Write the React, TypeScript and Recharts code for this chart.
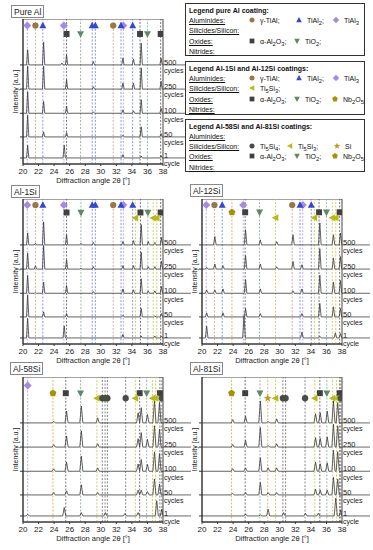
import React from 'react';
import { ComposedChart, Line, Scatter, XAxis, YAxis, ReferenceLine, ReferenceArea } from 'recharts';

const FONT = '"Liberation Sans", Arial, sans-serif';

const xTicks = [20, 22, 24, 26, 28, 30, 32, 34, 36, 38];
const cycleLabels = ['500', '250', '100', '50', '1'];
const cycleUnits = ['cycles', 'cycles', 'cycles', 'cycles', 'cycle'];
const baselines = [4.1, 3.1, 2.1, 1.12, 0.25];

// pure Al: peak positions (2θ) and heights per cycle count (500, 250, 100, 50, 1)
const pureAlPeaks = [20.6, 22.65, 25.0, 25.3, 25.6, 29.05, 32.85, 34.2, 35.2, 37.75];
const pureAl500 = [0.63, 0.94, 0.08, 0, 0.42, 0.14, 0.28, 0.24, 0.9, 0.28];
const pureAl250 = [0.95, 0.95, 0, 0, 0.39, 0.1, 0.25, 0.25, 0.88, 0.32];
const pureAl100 = [0.9, 0.49, 0, 0, 0.3, 0.06, 0.14, 0.1, 0.56, 0.21];
const pureAl50 = [0.9, 0.21, 0, 0, 0.18, 0, 0.07, 0, 0.42, 0.14];
const pureAl1 = [0.53, 0.03, 0, 0.53, 0, 0, 0.14, 0, 0.08, 0.1];

// Al-1Si
const al1Peaks = [20.6, 21.6, 22.65, 25.3, 25.6, 27.45, 29.05, 32.85, 34.2, 35.2, 36.1, 36.95, 37.8];
const al1_500 = [0.5, 0.07, 0.95, 0, 0.42, 0.07, 0.1, 0.14, 0.18, 0.84, 0.14, 0.1, 0.31];
const al1_250 = [0.66, 0.14, 0.98, 0, 0.38, 0.04, 0.1, 0.14, 0.14, 0.7, 0.1, 0.1, 0.32];
const al1_100 = [0.74, 0.04, 0.46, 0, 0.32, 0, 0.07, 0.18, 0.14, 0.6, 0.1, 0.1, 0.28];
const al1_50 = [0.91, 0, 0.21, 0, 0.14, 0, 0, 0.07, 0, 0.35, 0, 0.04, 0.14];
const al1_1 = [0.81, 0, 0, 0.5, 0, 0, 0, 0.15, 0, 0.08, 0, 0.08, 0.08];

// Al-12Si
const al12Peaks = [20.6, 21.65, 22.7, 25.4, 25.6, 27.5, 29.6, 31.7, 32.85, 35.15, 36.9, 37.15, 37.8];
const al12_500 = [0, 0.35, 0, 0, 0.63, 0.21, 0.14, 0.42, 0, 0.91, 0.42, 0, 0.49];
const al12_250 = [0.07, 0.21, 0.14, 0, 0.56, 0.21, 0.1, 0.32, 0.18, 0.84, 0.46, 0, 0.52];
const al12_100 = [0.14, 0.14, 0.18, 0, 0.56, 0.18, 0, 0.1, 0.18, 0.74, 0.46, 0, 0.53];
const al12_50 = [0.17, 0, 0.17, 0, 0.35, 0.14, 0, 0, 0.14, 0.56, 0.42, 0, 0.35];
const al12_1 = [0.49, 0, 0, 0.91, 0, 0, 0, 0, 0.24, 0.07, 0, 0.21, 0.18];

// Al-58Si
const al58Peaks = [20.6, 23.95, 25.3, 25.6, 27.5, 29.6, 30.6, 33.1, 34.8, 35.2, 36.0, 36.9, 37.2, 37.55, 37.85];
const al58_500 = [0, 0.07, 0, 0.49, 0.7, 0.21, 0, 0, 0.42, 0.63, 0.35, 0.91, 0, 0.84, 0];
const al58_250 = [0, 0.1, 0, 0.46, 0.67, 0.14, 0, 0, 0.35, 0.6, 0.32, 0.88, 0, 0.74, 0];
const al58_100 = [0, 0.1, 0, 0.38, 0.63, 0.14, 0, 0, 0.3, 0.49, 0.28, 0.8, 0, 0.73, 0];
const al58_50 = [0, 0.1, 0, 0.17, 0.42, 0.1, 0, 0, 0.2, 0.2, 0.14, 0.66, 0, 0.45, 0];
const al58_1 = [0.07, 0, 0.35, 0, 0.14, 0, 0.14, 0.1, 0.14, 0, 0, 0, 0.63, 0, 0.28];

// Al-81Si
const al81Peaks = [23.95, 25.6, 27.5, 28.5, 29.6, 30.5, 33.3, 34.6, 34.95, 35.2, 36.1, 36.9, 37.2, 37.45, 37.85];
const al81_500 = [0.14, 0.28, 0.91, 0.07, 0.17, 0, 0, 0.38, 0, 0.42, 0.49, 0.91, 0, 0.84, 0];
const al81_250 = [0.11, 0.28, 0.81, 0.07, 0.14, 0, 0, 0.39, 0, 0.36, 0.42, 0.95, 0, 0.88, 0];
const al81_100 = [0.11, 0.14, 0.56, 0.14, 0.14, 0, 0, 0.38, 0, 0.31, 0.35, 0.87, 0, 0.81, 0];
const al81_50 = [0.06, 0.1, 0.52, 0.1, 0.1, 0, 0, 0.24, 0, 0.2, 0.2, 0.73, 0, 0.66, 0];
const al81_1 = [0, 0.08, 0.04, 0.28, 0, 0.14, 0.11, 0, 0.11, 0, 0, 0, 0.74, 0, 0.25];

// phase reference marks: [phase, 2θ, row]
type Mark = [string, number, number];
const pureAlMarks: Mark[] = [
  ['TiAl3', 20.55, 1], ['gTiAl', 21.6, 1], ['TiAl2', 22.55, 1], ['TiAl3', 25.25, 1], ['TiAl2', 28.9, 1],
  ['TiAl2', 29.3, 1], ['gTiAl', 31.6, 1], ['TiAl2', 32.6, 1], ['TiAl3', 32.9, 1], ['TiAl2', 34.1, 1],
  ['Al2O3', 25.6, 2], ['TiO2', 27.4, 2], ['Al2O3', 35.05, 2], ['TiO2', 36.0, 2], ['Al2O3', 37.7, 2],
];
const al1Marks: Mark[] = [
  ['TiAl3', 20.55, 1], ['gTiAl', 21.6, 1], ['TiAl2', 22.55, 1], ['TiAl3', 25.25, 1], ['TiAl2', 28.9, 1],
  ['TiAl2', 29.3, 1], ['gTiAl', 31.6, 1], ['TiAl2', 32.6, 1], ['TiAl3', 32.9, 1], ['TiAl2', 34.1, 1],
  ['Al2O3', 25.6, 2], ['TiO2', 27.45, 2], ['Al2O3', 35.1, 2], ['TiO2', 36.05, 2], ['Al2O3', 37.7, 2],
  ['Ti5Si3', 34.45, 3], ['Ti5Si3', 36.75, 3], ['Ti5Si3', 37.2, 3],
];
const al12Marks: Mark[] = [
  ['TiAl3', 20.55, 1], ['gTiAl', 21.6, 1], ['TiAl2', 22.6, 1], ['TiAl3', 25.3, 1], ['gTiAl', 31.6, 1],
  ['TiAl2', 32.6, 1], ['TiAl3', 32.95, 1], ['TiAl2', 34.05, 1],
  ['Nb2O5', 23.85, 2], ['Al2O3', 25.55, 2], ['TiO2', 27.4, 2], ['Al2O3', 35.05, 2], ['TiO2', 36.0, 2], ['Al2O3', 37.7, 2],
  ['Ti5Si3', 29.45, 3], ['Ti5Si3', 34.45, 3], ['Ti5Si3', 36.75, 3], ['Ti5Si3', 37.2, 3],
];
const al58Marks: Mark[] = [
  ['TiAl3', 20.6, 1],
  ['Nb2O5', 23.85, 2], ['Al2O3', 25.5, 2], ['TiO2', 27.4, 2], ['Al2O3', 35.0, 2], ['TiO2', 35.9, 2], ['Al2O3', 37.6, 2],
  ['Ti5Si3', 29.5, 3], ['Ti5Si4', 30.2, 3], ['Ti5Si4', 30.55, 3], ['Ti5Si4', 30.85, 3], ['Ti5Si4', 33.2, 3],
  ['Ti5Si3', 34.45, 3], ['Ti5Si3', 36.65, 3], ['Ti5Si3', 37.05, 3], ['Ti5Si4', 37.85, 3],
];
const al81Marks: Mark[] = [
  ['Nb2O5', 23.8, 2], ['Al2O3', 25.55, 2], ['TiO2', 27.45, 2], ['Al2O3', 35.15, 2], ['TiO2', 36.05, 2], ['Al2O3', 37.7, 2],
  ['Si', 28.45, 3], ['Ti5Si3', 29.45, 3], ['Ti5Si4', 30.4, 3], ['Ti5Si4', 30.75, 3], ['Ti5Si4', 33.25, 3],
  ['Ti5Si3', 34.5, 3], ['Ti5Si3', 36.8, 3], ['Ti5Si3', 37.3, 3], ['Ti5Si4', 37.85, 3],
];

const PHASES: Record<string, { shape: string; fill: string; line: string; label: React.ReactNode }> = {
  gTiAl: { shape: 'circle', fill: '#9a7845', line: '#c99a8a', label: <>γ-TiAl;</> },
  TiAl2: { shape: 'up', fill: '#3347d6', line: '#6f7fe0', label: <>TiAl<sub>2</sub>;</> },
  TiAl3: { shape: 'diamond', fill: '#a48ae4', line: '#a996e6', label: <>TiAl<sub>3</sub></> },
  Al2O3: { shape: 'square', fill: '#404040', line: '#555555', label: <>α-Al<sub>2</sub>O<sub>3</sub>;</> },
  TiO2: { shape: 'down', fill: '#5e8868', line: '#86a890', label: <>TiO<sub>2</sub>;</> },
  Ti5Si3: { shape: 'left', fill: '#b7ba14', line: '#c9c24a', label: <>Ti<sub>5</sub>Si<sub>3</sub>;</> },
  Nb2O5: { shape: 'pentagon', fill: '#a89200', line: '#d3a550', label: <>Nb<sub>2</sub>O<sub>5</sub></> },
  Si: { shape: 'star', fill: '#c29a1c', line: '#d3a550', label: <>Si</> },
  Ti5Si4: { shape: 'circle', fill: '#474d45', line: '#6a6a6a', label: <>Ti<sub>5</sub>Si<sub>4</sub>;</> },
};

const poly = (cx: number, cy: number, r: number, pts: number[][]) =>
  pts.map(([a, b]) => `${cx + a * r},${cy + b * r}`).join(' ');

const MarkerShape = ({ kind, cx, cy, r = 3.5 }: any) => {
  const { shape, fill } = PHASES[kind];
  if (cx == null || cy == null) return null;
  switch (shape) {
    case 'circle':
      return <circle cx={cx} cy={cy} r={r * 0.9} fill={fill} />;
    case 'square':
      return <rect x={cx - r * 0.85} y={cy - r * 0.85} width={r * 1.7} height={r * 1.7} fill={fill} />;
    case 'up':
      return <polygon points={poly(cx, cy, r, [[0, -1.1], [-1, 0.8], [1, 0.8]])} fill={fill} />;
    case 'down':
      return <polygon points={poly(cx, cy, r, [[-1, -0.8], [1, -0.8], [0, 1.1]])} fill={fill} />;
    case 'left':
      return <polygon points={poly(cx, cy, r, [[-1.1, 0], [0.8, -1], [0.8, 1]])} fill={fill} />;
    case 'diamond':
      return <polygon points={poly(cx, cy, r, [[0, -1.15], [1.15, 0], [0, 1.15], [-1.15, 0]])} fill={fill} />;
    case 'pentagon': {
      const pts = [0, 1, 2, 3, 4].map((k) => {
        const a = ((-90 + 72 * k) * Math.PI) / 180;
        return [Math.cos(a) * 1.05, Math.sin(a) * 1.05];
      });
      return <polygon points={poly(cx, cy, r, pts)} fill={fill} />;
    }
    case 'star': {
      const pts = Array.from({ length: 10 }, (_, k) => {
        const a = ((-90 + 36 * k) * Math.PI) / 180;
        const rr = k % 2 === 0 ? 1.2 : 0.5;
        return [Math.cos(a) * rr, Math.sin(a) * rr];
      });
      return <polygon points={poly(cx, cy, r, pts)} fill={fill} />;
    }
    default:
      return null;
  }
};

const buildPattern = (peaks: number[], heights: number[], base: number, w: number) => {
  const pts = [{ x: 20, y: base }, { x: 38, y: base }];
  peaks.forEach((p, i) => {
    if (heights[i] > 0) {
      pts.push({ x: Math.max(20, p - w), y: base }, { x: p, y: base + heights[i] }, { x: Math.min(38, p + w), y: base });
    }
  });
  return pts.sort((a, b) => a.x - b.x);
};

const CycleLabel = ({ viewBox, top, bottom }: any) => {
  if (!viewBox) return null;
  const { x, y } = viewBox;
  return (
    <g fontFamily={FONT} fill="#222">
      <text x={x + 1} y={y - 0.3} fontSize={7.5}>{top}</text>
      <text x={x + 1} y={y + 8.3} fontSize={7}>{bottom}</text>
    </g>
  );
};

const YLabel = ({ viewBox }: any) => {
  if (!viewBox) return null;
  const cx = viewBox.x + 17;
  const cy = viewBox.y + viewBox.height / 2;
  return (
    <text x={cx} y={cy} transform={`rotate(-90 ${cx} ${cy})`} textAnchor="middle" fontSize={7} fontFamily={FONT} fill="#222">
      Intensity [a.u.]
    </text>
  );
};

const XLabel = ({ viewBox }: any) => {
  if (!viewBox) return null;
  return (
    <text x={viewBox.x + viewBox.width / 2} y={viewBox.y + 18.5} textAnchor="middle" fontSize={7.5} fontFamily={FONT} fill="#222">
      Diffraction angle 2θ [°]
    </text>
  );
};

const Panel = ({ left, top, peaks, patterns, w, marks, rows }: any) => {
  const series = patterns.map((h: number[], i: number) => buildPattern(peaks, h, baselines[i], w));
  const phases: string[] = Array.from(new Set(marks.map((m: Mark) => m[0])));
  return (
    <div style={{ position: 'absolute', left, top }}>
      <ComposedChart width={196} height={167} margin={{ top: 0, right: 34, bottom: 0, left: 0 }}>
        <XAxis
          type="number"
          dataKey="x"
          domain={[20, 38]}
          ticks={xTicks}
          allowDataOverflow
          height={22}
          tickSize={2}
          stroke="#333"
          tick={{ fontSize: 8, fill: '#222', fontFamily: FONT }}
          label={<XLabel />}
        />
        <YAxis
          type="number"
          domain={[0, 6]}
          ticks={baselines}
          allowDataOverflow
          width={22}
          tickSize={3}
          stroke="#333"
          tickFormatter={() => ''}
          label={<YLabel />}
        />
        <ReferenceArea x1={20} x2={38} y1={0} y2={6} fill="none" stroke="#333" strokeWidth={0.9} />
        {marks.map((m: Mark, i: number) => (
          <ReferenceLine key={`d${i}`} x={m[1]} stroke={PHASES[m[0]].line} strokeDasharray="2 1.5" strokeWidth={0.8} />
        ))}
        {series.map((d: any[], i: number) => (
          <Line
            key={`s${i}`}
            data={d}
            dataKey="y"
            type="linear"
            stroke="#3a3a3a"
            strokeWidth={0.8}
            dot={false}
            isAnimationActive={false}
          />
        ))}
        {baselines.map((b, i) => (
          <ReferenceLine
            key={`c${i}`}
            segment={[{ x: 38, y: b }, { x: 41.6, y: b }]}
            stroke="#444"
            strokeWidth={0.8}
            ifOverflow="visible"
            label={<CycleLabel top={cycleLabels[i]} bottom={cycleUnits[i]} />}
          />
        ))}
        {phases.map((p) => (
          <Scatter
            key={p}
            data={marks.filter((m: Mark) => m[0] === p).map((m: Mark) => ({ x: m[1], y: rows[m[2]] }))}
            dataKey="y"
            isAnimationActive={false}
            shape={(s: any) => <MarkerShape kind={p} cx={s.cx} cy={s.cy} />}
          />
        ))}
      </ComposedChart>
    </div>
  );
};

const TitleBox = ({ left, top, text }: any) => (
  <div
    style={{
      position: 'absolute', left, top, height: 13, padding: '0 2px', border: '1px solid #888',
      background: '#fff', fontFamily: FONT, fontSize: 8.5, lineHeight: '12px', color: '#222', boxSizing: 'border-box',
    }}
  >
    {text}
  </div>
);

type LegendRow = { name: string; y: number; items: [string, number][] };

const LegendBox = ({ top, height, title, rows }: { top: number; height: number; title: string; rows: LegendRow[] }) => (
  <div
    style={{
      position: 'absolute', left: 185, top, width: 180, height, border: '1.5px solid #333',
      boxSizing: 'border-box', fontFamily: FONT, fontSize: 7, color: '#111', background: '#fff',
    }}
  >
    <div style={{ position: 'absolute', left: 3, top: 2, fontWeight: 'bold', lineHeight: '9px', whiteSpace: 'nowrap' }}>{title}</div>
    {rows.map((r) => (
      <React.Fragment key={r.name}>
        <div style={{ position: 'absolute', left: 3, top: r.y - 5, lineHeight: '9px', textDecoration: 'underline', whiteSpace: 'nowrap' }}>
          {r.name}
        </div>
        {r.items.map(([k, x]) => (
          <React.Fragment key={k}>
            <svg width={10} height={10} style={{ position: 'absolute', left: x - 5, top: r.y - 6 }}>
              <MarkerShape kind={k} cx={5} cy={5} r={2.8} />
            </svg>
            <div style={{ position: 'absolute', left: x + 8, top: r.y - 5, lineHeight: '9px', whiteSpace: 'nowrap' }}>
              {PHASES[k].label}
            </div>
          </React.Fragment>
        ))}
      </React.Fragment>
    ))}
  </div>
);

const legend1: LegendRow[] = [
  { name: 'Aluminides:', y: 17, items: [['gTiAl', 66], ['TiAl2', 113], ['TiAl3', 150]] },
  { name: 'Silicides/Silicon:', y: 27, items: [] },
  { name: 'Oxides:', y: 37.5, items: [['Al2O3', 66], ['TiO2', 111]] },
  { name: 'Nitrides:', y: 47.5, items: [] },
];
const legend2: LegendRow[] = [
  { name: 'Aluminides:', y: 17, items: [['gTiAl', 66], ['TiAl2', 113], ['TiAl3', 150]] },
  { name: 'Silicides/Silicon:', y: 27, items: [['Ti5Si3', 66]] },
  { name: 'Oxides:', y: 37.5, items: [['Al2O3', 66], ['TiO2', 111], ['Nb2O5', 149]] },
  { name: 'Nitrides:', y: 47.5, items: [] },
];
const legend3: LegendRow[] = [
  { name: 'Aluminides:', y: 16.5, items: [] },
  { name: 'Silicides/Silicon:', y: 26.5, items: [['Ti5Si4', 66], ['Ti5Si3', 104], ['Si', 151]] },
  { name: 'Oxides:', y: 37, items: [['Al2O3', 66], ['TiO2', 111], ['Nb2O5', 149]] },
  { name: 'Nitrides:', y: 47.5, items: [] },
];

export default function App() {
  return (
    <div style={{ position: 'absolute', left: 0, top: 0, width: 373, height: 550, background: '#fff', overflow: 'hidden' }}>
      <Panel left={1} top={19} peaks={pureAlPeaks} w={0.15} marks={pureAlMarks} rows={[0, 5.73, 5.38, 5.2]}
        patterns={[pureAl500, pureAl250, pureAl100, pureAl50, pureAl1]} />
      <Panel left={1} top={199} peaks={al1Peaks} w={0.15} marks={al1Marks} rows={[0, 5.75, 5.44, 5.21]}
        patterns={[al1_500, al1_250, al1_100, al1_50, al1_1]} />
      <Panel left={180} top={199} peaks={al12Peaks} w={0.17} marks={al12Marks} rows={[0, 5.75, 5.45, 5.22]}
        patterns={[al12_500, al12_250, al12_100, al12_50, al12_1]} />
      <Panel left={1} top={376.5} peaks={al58Peaks} w={0.2} marks={al58Marks} rows={[0, 5.65, 5.33, 5.12]}
        patterns={[al58_500, al58_250, al58_100, al58_50, al58_1]} />
      <Panel left={180} top={376.5} peaks={al81Peaks} w={0.2} marks={al81Marks} rows={[0, 5.65, 5.33, 5.12]}
        patterns={[al81_500, al81_250, al81_100, al81_50, al81_1]} />

      <TitleBox left={11} top={5} text="Pure Al" />
      <TitleBox left={11} top={185} text="Al-1Si" />
      <TitleBox left={190} top={184} text="Al-12Si" />
      <TitleBox left={10} top={362} text="Al-58Si" />
      <TitleBox left={190} top={362} text="Al-81Si" />

      <LegendBox top={3} height={53} title="Legend pure Al coating:" rows={legend1} />
      <LegendBox top={61} height={54} title="Legend Al-1Si and Al-12Si coatings:" rows={legend2} />
      <LegendBox top={119} height={53} title="Legend Al-58Si and Al-81Si coatings:" rows={legend3} />
    </div>
  );
}
